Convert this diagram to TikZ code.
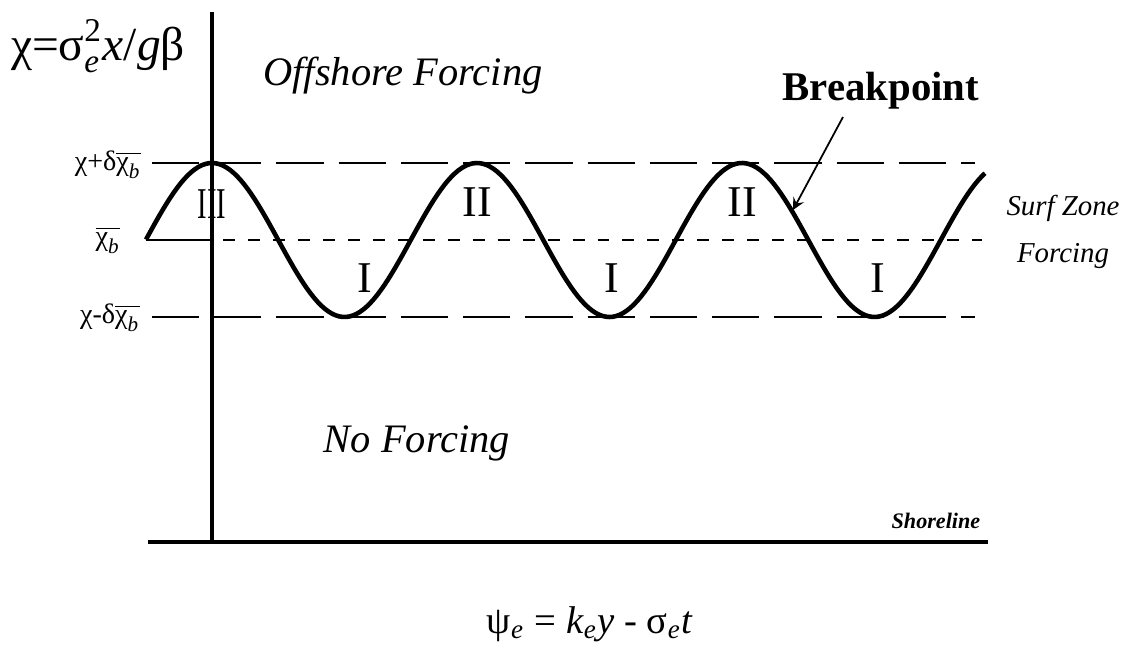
\documentclass[tikz,border=0pt]{standalone}
\usepackage{amsmath}
\usepackage{fontspec}
\setmainfont{Liberation Serif}
\usepackage{tikz}

\newcommand{\esub}{\ensuremath{_{\text{\itshape e}}}}
\newcommand{\chibar}{\ensuremath{\overline{\text{χ}_{\text{\itshape b}}}}}

\tikzset{
  wave/.style={line width=1.3pt, line join=round},
  axisline/.style={line width=0.9pt},
  guide/.style={line width=0.6pt, dash pattern=on 13.4pt off 4.3pt},
  meanline/.style={line width=0.6pt, dash pattern=on 3.4pt off 3.7pt},
  region/.style={inner sep=0pt, anchor=base, font={\fontsize{11.5}{13}\selectfont\itshape}},
  numeral/.style={inner sep=0pt, font={\fontsize{12.5}{14}\selectfont}},
  level/.style={inner sep=0pt, font={\fontsize{8}{9}\selectfont}},
  small/.style={inner sep=0pt, anchor=base, font={\fontsize{8.2}{9}\selectfont\itshape}}
}

\begin{document}
\begin{tikzpicture}[x=0.01cm, y=-0.01cm]
            \useasboundingbox (0,0) rectangle (1123,645);
            % axes
            \coordinate (top) at (212,12);
            \coordinate (foot) at (212,542);
            \coordinate (sl) at (148,542);
            \coordinate (sr) at (988,542);
            \draw[axisline] (top) -- (foot);
            \draw[axisline] (sl) -- (sr);
            % levels
            \node[level] (hi) at (108,165) {χ+δ\chibar};
            \node[level] (mid) at (108,240) {\chibar};
            \node[level] (lo) at (110,318) {χ-δ\chibar};
            \draw[guide] (152,163) -- (975,163);
            \draw[guide] (152,317) -- (975,317);
            \draw[line width=0.6pt] (146,240) -- (212,240);
            \draw[meanline] (223,240) -- (982,240);
            % wave
            \draw[wave] plot[domain=146:985, samples=240]
                (\x, {240-77*cos((\x-212)/265*360)});
            \node[numeral] (r3) at (212,204) {\scalebox{0.65}[1]{III}};
            \node[numeral] (r2a) at (477,202) {II};
            \node[numeral] (r2b) at (742,202) {II};
            \node[numeral] (r1a) at (365,278) {I};
            \node[numeral] (r1b) at (612,278) {I};
            \node[numeral] (r1c) at (878,278) {I};
            % labels
            \node[inner sep=0pt, anchor=base, font={\fontsize{13.5}{16}\selectfont}] (xi) at (98,60)
                {χ=σ$_{\text{\itshape e}}^{\text{2}}$\textit{x}/\textit{g}β};
            \node[region] (off) at (403,85) {Offshore Forcing};
            \node[region] (none) at (417,452) {No Forcing};
            \node[inner sep=0pt, anchor=base, font={\fontsize{11.6}{13}\selectfont\bfseries}] (brk) at (881,100) {Breakpoint};
            \coordinate (bstart) at (843,117);
            \coordinate (bp) at (793,210);
            \draw[-stealth, line width=0.5pt] (bstart) -- (bp);
            \node[small] (surf) at (1063,215) {Surf Zone};
            \node[small] (surf2) at (1063,262) {Forcing};
            \node[inner sep=0pt, anchor=base east, font={\fontsize{6.3}{7}\selectfont\bfseries\itshape}] (shore) at (981,528) {Shoreline};
            \node[inner sep=0pt, anchor=base, font={\fontsize{11}{13}\selectfont}] (psi) at (590,633)
                {ψ\esub{} = \textit{k}\esub\textit{y} - σ\esub\textit{t}};
        \end{tikzpicture}
\end{document}
